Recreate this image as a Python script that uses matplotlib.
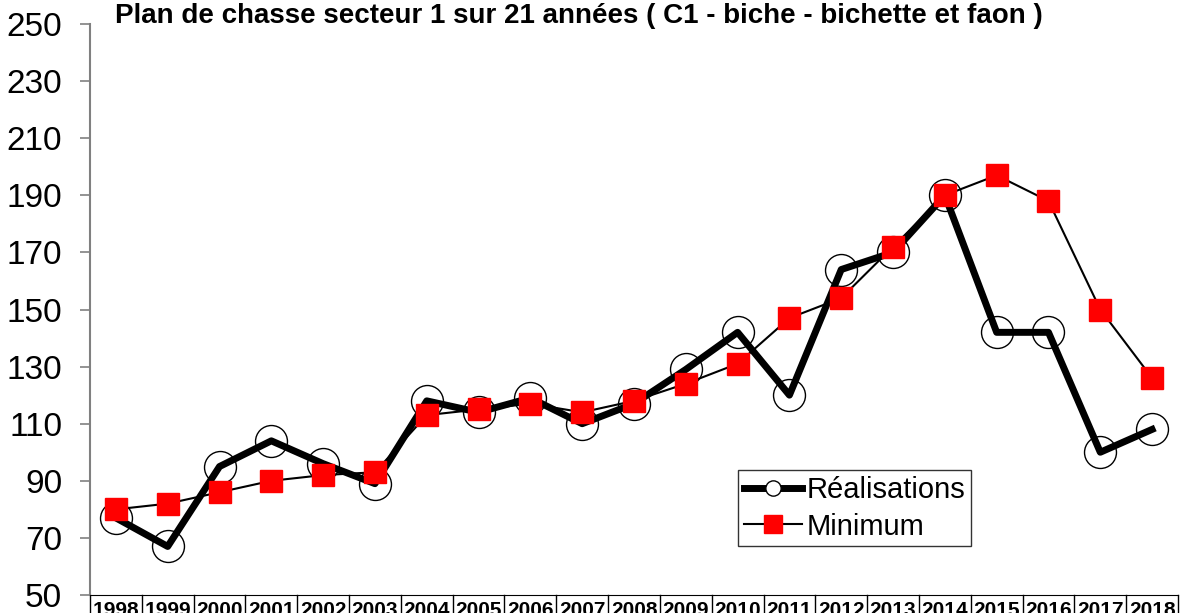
import matplotlib
matplotlib.use("Agg")
import matplotlib.pyplot as plt
import matplotlib.transforms as mtransforms

plt.rcParams['font.family'] = ['Liberation Sans', 'DejaVu Sans']

years = [str(y) for y in range(1998, 2019)]
realisations = [77, 67, 95, 104, 96, 89, 118, 114, 119, 110, 117, 129, 142, 120,
                164, 170, 190, 142, 142, 100, 108]
minimum = [80, 82, 86, 90, 92, 93, 113, 115, 117, 114, 118, 124, 131, 147,
           154, 172, 190, 197, 188, 150, 126]

fig = plt.figure(figsize=(11.82, 6.13), dpi=100)
ax = fig.add_axes([90 / 1182, 18 / 613, 1088 / 1182, 571 / 613])

x = list(range(len(years)))
ax.plot(x, realisations, color='black', lw=5, marker='o', ms=23,
        mfc='none', mec='black', mew=1, label='Réalisations', zorder=2)
ax.plot(x, minimum, color='black', lw=1.5, marker='s', ms=16,
        mfc='red', mec='red', label='Minimum', zorder=3)

ax.set_xlim(-0.5, len(years) - 0.5)
ax.set_ylim(50, 250)
ax.set_yticks(range(50, 251, 20))
ax.tick_params(axis='y', labelsize=24, length=7, pad=13,
               color='#808080', width=1.2)

ax.set_xticks(x)
ax.set_xticklabels(years, fontsize=15, fontweight='bold')
ax.tick_params(axis='x', length=0, pad=4)

for side in ('top', 'right'):
    ax.spines[side].set_visible(False)
ax.spines['left'].set_color('#808080')
ax.spines['left'].set_linewidth(1.5)
ax.spines['bottom'].set_color('black')

# cell borders around the year labels
trans = mtransforms.blended_transform_factory(ax.transData, ax.transAxes)
for b in range(len(years) + 1):
    ax.plot([b - 0.5, b - 0.5], [0, -0.1], color='black', lw=1,
            transform=trans, clip_on=False)

fig.text(115 / 1182, 1 - 23 / 613,
         'Plan de chasse secteur 1 sur 21 années ( C1 - biche - bichette et faon )',
         fontsize=20, fontweight='bold', va='baseline', ha='left')

leg = ax.legend(loc='upper left', bbox_to_anchor=(738 / 1182, 1 - 470 / 613),
                bbox_transform=fig.transFigure, fontsize=21, frameon=True,
                fancybox=False, edgecolor='black', handlelength=2.0,
                handletextpad=0.15, borderpad=0.2, labelspacing=0.3,
                borderaxespad=0)
leg.get_frame().set_linewidth(1)
h0, h1 = leg.legend_handles
h0.set_markersize(11)
h0.set_markerfacecolor('white')
h1.set_markersize(13)

fig.savefig('out.png', dpi=100)
